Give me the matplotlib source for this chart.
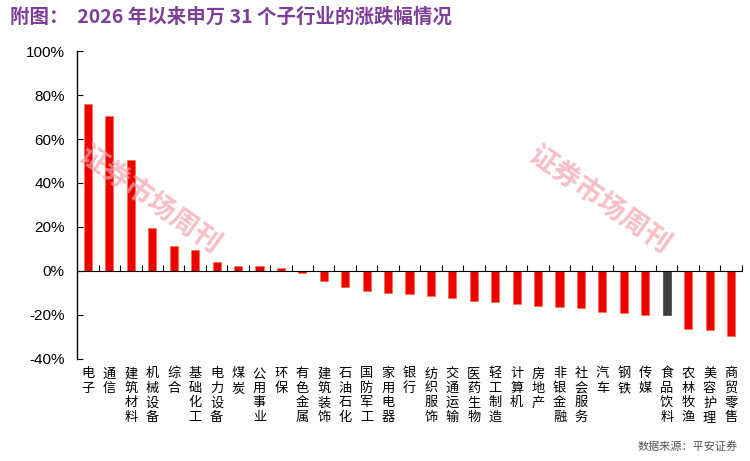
import numpy as np
import matplotlib
matplotlib.use("Agg")
import matplotlib.pyplot as plt
from matplotlib import transforms
from matplotlib.ticker import FuncFormatter, MultipleLocator

plt.rcParams['font.family'] = ['Noto Sans CJK SC', 'DejaVu Sans']

# 申万一级行业，2026年以来涨跌幅（%）
industries = ['电子', '通信', '建筑材料', '机械设备', '综合', '基础化工', '电力设备', '煤炭',
              '公用事业', '环保', '有色金属', '建筑装饰', '石油石化', '国防军工', '家用电器', '银行',
              '纺织服饰', '交通运输', '医药生物', '轻工制造', '计算机', '房地产', '非银金融', '社会服务',
              '汽车', '钢铁', '传媒', '食品饮料', '农林牧渔', '美容护理', '商贸零售']
changes = [76.1, 70.3, 50.5, 19.6, 11.3, 9.3, 4.0, 2.4,
           2.1, 1.3, -0.8, -4.6, -7.3, -9.3, -9.9, -10.7,
           -11.6, -12.6, -13.8, -14.3, -15.1, -16.0, -16.3, -17.1,
           -18.7, -19.4, -20.1, -20.1, -26.7, -27.0, -29.7]
highlight = '食品饮料'

red = '#ee0000'
gray = '#3e3d42'
purple = '#7d3f98'

fig = plt.figure(figsize=(7.5, 4.61), dpi=100)
ax = fig.add_axes([0.103, 0.222, 0.886, 0.667])

x = np.arange(len(industries))
colors = [gray if name == highlight else red for name in industries]
edges = ['#2a2a2e' if name == highlight else '#f5711f' for name in industries]
ax.bar(x, changes, width=0.38, color=colors, edgecolor=edges, linewidth=0.4, zorder=2)

ax.set_xlim(-0.5, len(industries) - 0.5)
ax.set_ylim(-40, 100)
ax.yaxis.set_major_locator(MultipleLocator(20))
ax.yaxis.set_major_formatter(FuncFormatter(lambda v, p: f'{v:.0f}%'))
for lab in ax.get_yticklabels():
    lab.set_family(['Liberation Sans', 'DejaVu Sans'])
ax.tick_params(axis='y', direction='in', length=4, width=0.8, labelsize=11, pad=9)

# x axis sits on zero, ticks between categories
ax.spines['bottom'].set_position(('data', 0))
ax.spines['top'].set_visible(False)
ax.spines['right'].set_visible(False)
ax.spines['left'].set_linewidth(1.0)
ax.spines['bottom'].set_linewidth(0.8)
ax.set_xticks(np.arange(len(industries)) + 0.5)
ax.set_xticklabels([])
ax.tick_params(axis='x', direction='in', length=4, width=0.8)

# vertical stacked category labels below the plot
trans = transforms.blended_transform_factory(ax.transData, fig.transFigure)
for i, name in enumerate(industries):
    ax.text(i, 0.203, '\n'.join(name), transform=trans, ha='center', va='top',
            fontsize=9.5, linespacing=1.15, color='black')

# title
fig.text(0.014, 0.962, '附图：  2026 年以来申万 31 个子行业的涨跌幅情况', color=purple,
         fontsize=14, fontweight='bold', va='center', ha='left')

# source
fig.text(0.983, 0.02, '数据来源：平安证券', color='#555555', fontsize=8, ha='right', va='bottom')

# watermarks
for wx in (0.2, 0.8):
    fig.text(wx, 0.565, '证券市场周刊', color='#f4a3ae', alpha=0.7, fontsize=20,
             fontweight='bold', rotation=-35, ha='center', va='center', zorder=5)

fig.savefig('out.png', dpi=100)
